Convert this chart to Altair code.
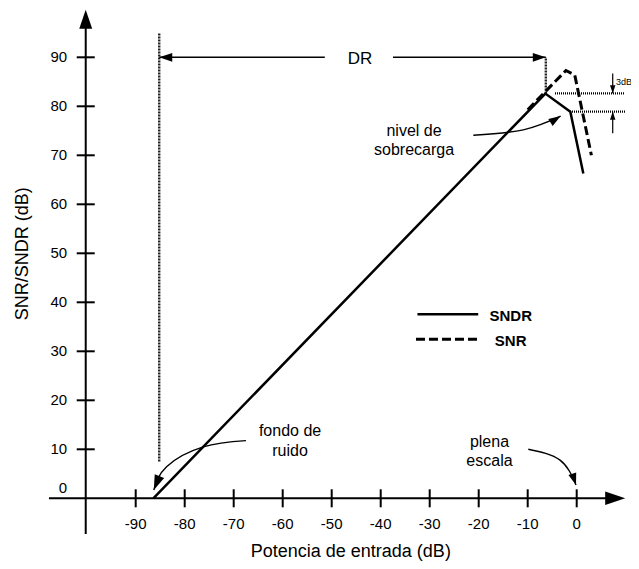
import altair as alt
import pandas as pd

# ---------------- data ----------------
sndr_x = [-86.4, -6.4, -1.3, 1.35]
sndr_y = [0.0, 82.6, 78.9, 66.3]
snr_x = [-10.0, -2.2, -0.4, 3.0]
snr_y = [79.3, 87.3, 86.4, 70.0]

x_ticks = [-90, -80, -70, -60, -50, -40, -30, -20, -10, 0]
y_ticks = [10, 20, 30, 40, 50, 60, 70, 80, 90]
x_tick_labels = [str(v) for v in x_ticks]
y_tick_labels = [str(v) for v in y_ticks]

x_title = "Potencia de entrada (dB)"
y_title = "SNR/SNDR (dB)"
legend_names = ["SNDR", "SNR"]

# plot area sized so that data map like the reference (4.9 px per unit)
PX = 4.9
W, H = 623, 553
X0 = -(576.7 - 8) / PX
X1 = X0 + W / PX
Y1 = (498.3 - 8) / PX
Y0 = Y1 - H / PX
FONT = "Liberation Sans"

AX = -100.2  # position of the vertical axis (x value)
TK = 1.84    # half tick length in data units

xs = alt.Scale(domain=[X0, X1], nice=False, zero=False)
ys = alt.Scale(domain=[Y0, Y1], nice=False, zero=False)


def enc_xy():
    return dict(x=alt.X("x:Q", scale=xs, axis=None), y=alt.Y("y:Q", scale=ys, axis=None))


def rules(rows, color="black", width=2.0, dash=None):
    df = pd.DataFrame(rows, columns=["x", "y", "x2", "y2"])
    kw = dict(color=color, strokeWidth=width)
    if dash:
        kw["strokeDash"] = dash
    return alt.Chart(df).mark_rule(**kw).encode(
        **enc_xy(), x2=alt.X2("x2:Q"), y2=alt.Y2("y2:Q")
    )


def texts(rows, size=16, align="center", weight="normal", angle=0, baseline="middle"):
    df = pd.DataFrame(rows, columns=["x", "y", "t"])
    kw = dict(font=FONT, fontSize=size, align=align, baseline=baseline,
              fontWeight=weight, color="black")
    if angle:
        kw["angle"] = angle
    return alt.Chart(df).mark_text(**kw).encode(**enc_xy(), text="t:N")


# ---------------- series ----------------
sndr_df = pd.DataFrame({"x": sndr_x, "y": sndr_y, "o": range(len(sndr_x))})
snr_df = pd.DataFrame({"x": snr_x, "y": snr_y, "o": range(len(snr_x))})

sndr = alt.Chart(sndr_df).mark_line(color="black", strokeWidth=2.5).encode(
    **enc_xy(), order="o:Q")
snr = alt.Chart(snr_df).mark_line(color="black", strokeWidth=3, strokeDash=[9, 4]).encode(
    **enc_xy(), order="o:Q")

# ---------------- axes ----------------
axis_lines = rules([
    [AX, -7.3, AX, 96.0],
    [-107.7, 0, 6.0, 0],
], width=2)
tick_rows = [[AX - TK, t, AX + TK, t] for t in y_ticks] + \
            [[t, -TK, t, TK] for t in x_ticks]
tick_marks = rules(tick_rows, width=2)

ylab_rows = [[-104.0, t, l] for t, l in zip(y_ticks, y_tick_labels)] + [[-104.0, 2.1, "0"]]
ylabels = texts(ylab_rows, size=15, align="right")
xlab_rows = [[t, -5.25, l] for t, l in zip(x_ticks, x_tick_labels)]
xlabels = texts(xlab_rows, size=15, align="center")

xtitle = texts([[-46.1, -10.9, x_title]], size=18)
ytitle = texts([[-113.1, 49.9, y_title]], size=18, angle=270)

# ---------------- DR / 3dB annotations ----------------
dotted_v = rules([
    [-85.2, 7.5, -85.2, 95.0],
    [-6.3, 82.6, -6.3, 90.0],
], color="#222222", width=2.4, dash=[2, 1])
dotted_h = rules([
    [-4.43, 82.65, 9.86, 82.65],
    [-1.37, 78.9, 9.86, 78.9],
], color="black", width=2.2, dash=[1, 1])

dr_lines = rules([
    [-85.2, 90, -51.4, 90],
    [-37.5, 90, -6.3, 90],
], width=1.5)
db_lines = rules([
    [7.35, 86.7, 7.35, 82.65],
    [7.35, 74.5, 7.35, 78.9],
], width=1.2)

dr_text = texts([[-44.2, 89.6, "DR"]], size=17)
db_text = texts([[8.0, 85.0, "3dB"]], size=9, align="left")

# ---------------- curved arrows ----------------
curve_rows = []
for cid, pts in enumerate([
    [(-21.1, 74.1), (-10.9, 75.2), (-3.27, 78.0)],               # nivel de sobrecarga
    [(-67.5, 11.76), (-76.2, 10.5), (-83.7, 6.45), (-86.3, 1.7)],  # fondo de ruido
    [(-9.88, 10.0), (-3.4, 7.8), (-0.14, 2.7)],                  # plena escala
]):
    for o, (px, py) in enumerate(pts):
        curve_rows.append({"x": px, "y": py, "c": cid, "o": o})
curves = alt.Chart(pd.DataFrame(curve_rows)).mark_line(
    color="black", strokeWidth=1.4, interpolate="natural").encode(
    **enc_xy(), detail="c:N", order="o:Q")

ann_text = texts([
    [-33.2, 75.0, "nivel de"],
    [-33.2, 71.0, "sobrecarga"],
    [-58.5, 13.8, "fondo de"],
    [-58.5, 9.7, "ruido"],
    [-17.8, 11.55, "plena"],
    [-17.8, 7.67, "escala"],
], size=16)

# ---------------- arrow heads ----------------
HEAD = "M0,0L-0.34,1L0.34,1Z"
head_rows = [
    # x, y, angle, length(px)
    [AX, 99.7, 0, 19],
    [9.9, 0.0, 90, 20],
    [-85.2, 90.0, 270, 13],
    [-6.3, 90.0, 90, 13],
    [7.35, 82.65, 180, 8],
    [7.35, 78.9, 0, 8],
    [-3.27, 78.0, 58, 12],
    [-86.3, 1.7, 202, 15],
    [-0.14, 2.7, 162, 12],
]
hdf = pd.DataFrame(head_rows, columns=["x", "y", "a", "L"])
hdf["s"] = 4 * hdf["L"] ** 2
heads = alt.Chart(hdf).mark_point(shape=HEAD, filled=True, color="black", opacity=1,
                                  strokeWidth=0).encode(
    **enc_xy(),
    angle=alt.Angle("a:Q", scale=None),
    size=alt.Size("s:Q", scale=None, legend=None),
)

# ---------------- legend ----------------
leg_solid = rules([[-32.5, 37.55, -20.1, 37.55]], width=2.5)
leg_dash = rules([[-32.8, 32.45, -19.9, 32.45]], width=3, dash=[9, 4])
leg_text1 = texts([[-17.8, 37.2, legend_names[0]]], size=15, align="left", weight="bold")
leg_text2 = texts([[-16.7, 32.1, legend_names[1]]], size=15, align="left", weight="bold")

chart = alt.layer(
    dotted_v, dotted_h, axis_lines, tick_marks, sndr, snr, dr_lines, db_lines, curves, heads,
    ylabels, xlabels, xtitle, ytitle, dr_text, db_text, ann_text,
    leg_solid, leg_dash, leg_text1, leg_text2,
).properties(
    width=W, height=H, padding=0, autosize=alt.AutoSizeParams(type="none"),
    background="white",
).configure_view(stroke=None)

chart.save("out.html", embed_options={"renderer": "svg", "actions": False})
